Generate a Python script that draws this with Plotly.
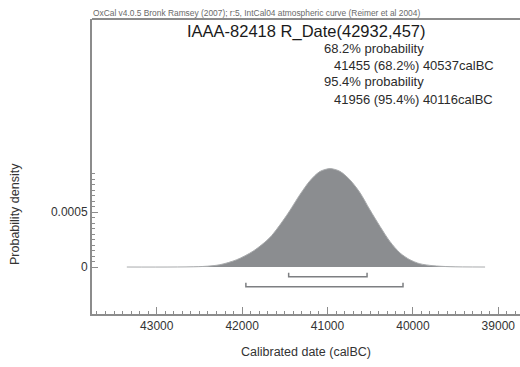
import plotly.graph_objects as go

# Calibrated probability distribution for IAAA-82418 (calBC, density)
cal_date = [43350, 42460, 42260, 42065, 41870, 41675, 41480, 41320, 41205,
            41090, 40970, 40855, 40740, 40620, 40505, 40385, 40270, 40150,
            40035, 39920, 39765, 39565, 39155]
density = [0.0, 0.000005, 0.000021, 0.000066, 0.000145, 0.000268, 0.000468,
           0.000662, 0.000785, 0.000868, 0.000895, 0.000870, 0.000795,
           0.000676, 0.000522, 0.000369, 0.000233, 0.000127, 0.000066,
           0.000030, 0.000012, 0.000003, 0.0]

# Highest-probability ranges (from, to) in calBC
range_labels = ["68.2%", "95.4%"]
range_from = [41455, 41956]
range_to = [40537, 40116]
range_level = [-0.000088, -0.000179]
bracket_tick = 0.000036

x_ticks = [43000, 42000, 41000, 40000, 39000]
y_ticks = [0, 0.0005]
y_tick_text = ["0", "0.0005"]
y_minor = [i * 0.00005 for i in range(0, 18)]

header = "OxCal v4.0.5 Bronk Ramsey (2007); r:5, IntCal04 atmospheric curve (Reimer et al 2004)"
title = "IAAA-82418 R_Date(42932,457)"

GREY_FILL = "#8b8d90"
AXIS = "#8c8c8c"
TEXT = "#2b2b2b"
FONT = "Liberation Sans, Arial, sans-serif"

fig = go.Figure()

fig.add_trace(go.Scatter(
    x=cal_date, y=density, mode="lines", line=dict(color="#a9abad", width=1, shape="spline", smoothing=0.8),
    fill="tozeroy", fillcolor=GREY_FILL, hoverinfo="skip", showlegend=False,
))

# Range brackets beneath the distribution
for a, b, lv in zip(range_from, range_to, range_level):
    fig.add_trace(go.Scatter(
        x=[a, a, b, b], y=[lv + bracket_tick, lv, lv, lv + bracket_tick],
        mode="lines", line=dict(color="#7d7f82", width=1.5),
        hoverinfo="skip", showlegend=False,
    ))

ann = []
def txt(px, py, s, size, anchor="left", **kw):
    ann.append(dict(x=(px - 92) / 428, y=(314 - py) / 295, xref="paper", yref="paper",
                    text=s, showarrow=False, xanchor=anchor, yanchor="middle",
                    font=dict(size=size, color=kw.get("color", TEXT), family=FONT),
                    textangle=kw.get("angle", 0)))

txt(91, 13, header, 8.4, color="#6a6a6a")
txt(306, 32, title, 16.5, anchor="center", color="#1a1a1a")
txt(322, 49, range_labels[0] + " probability", 13)
txt(332, 65, f"{range_from[0]} ({range_labels[0]}) {range_to[0]}calBC", 13)
txt(322, 82, range_labels[1] + " probability", 13)
txt(332, 99, f"{range_from[1]} ({range_labels[1]}) {range_to[1]}calBC", 13)
txt(15, 214, "Probability density", 12.5, anchor="center", angle=-90, color="#333333")
txt(306, 352, "Calibrated date (calBC)", 12.5, anchor="center", color="#333333")

fig.update_layout(
    width=520, height=367,
    margin=dict(l=92, r=0, t=19, b=53),
    paper_bgcolor="white", plot_bgcolor="white",
    annotations=ann,
    shapes=[dict(type="line", xref="paper", yref="paper", x0=0, x1=1, y0=1, y1=1,
                 line=dict(color=AXIS, width=2))],
    font=dict(family=FONT, color="#333333"),
)

fig.update_xaxes(
    range=[43758, 38746], showgrid=False, zeroline=False,
    showline=True, linecolor=AXIS, linewidth=2,
    tickmode="array", tickvals=x_ticks, ticktext=[str(v) for v in x_ticks],
    ticks="inside", ticklen=7, tickcolor=AXIS, tickwidth=1,
    tickfont=dict(size=12, color="#333333"),
    minor=dict(ticks="inside", dtick=100, tick0=39000, ticklen=3, tickcolor=AXIS, showgrid=False),
)
fig.update_yaxes(
    range=[-0.000427, 0.002255], showgrid=False, zeroline=False,
    showline=True, linecolor=AXIS, linewidth=2,
    tickmode="array", tickvals=y_ticks, ticktext=y_tick_text,
    ticks="inside", ticklen=6, tickcolor=AXIS, tickwidth=1,
    tickfont=dict(size=12, color="#333333"),
    minor=dict(ticks="inside", tickmode="array", tickvals=y_minor, ticklen=3, tickcolor=AXIS, showgrid=False),
)

fig.write_html("out.html")
